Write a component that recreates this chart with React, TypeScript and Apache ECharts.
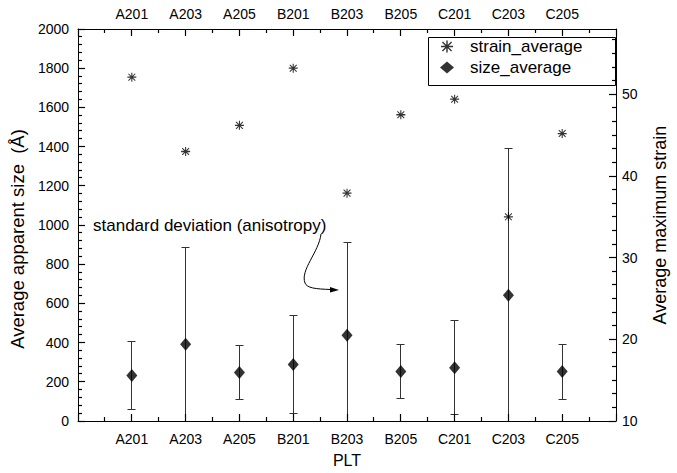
import React, { useEffect, useRef } from "react";
import * as echarts from "echarts";

const categories = ["A201", "A203", "A205", "B201", "B203", "B205", "C201", "C203", "C205"];
const sizeAverage = [232, 391, 247, 288, 438, 252, 272, 641, 252];
const sizeStd = [172, 496, 138, 251, 474, 139, 240, 751, 140];
const strainAverage = [52.1, 43.0, 46.2, 53.2, 37.9, 47.5, 49.4, 35.0, 45.2];
const annotationText = "standard deviation (anisotropy)";

// axis ranges / tick steps
const X_MIN = 0, X_MAX = 10, X_STEP = 1, X_MINOR = 2;
const L_MIN = 0, L_MAX = 2000, L_STEP = 200, L_MINOR = 5;
const R_MIN = 10, R_MAX = 58, R_STEP = 10, R_MINOR = 6;

const FONT = "'Liberation Sans', Arial, sans-serif";
const ASTERISK =
  "path://M4.4,0h1.2v10h-1.2zM0,4.3h10v1.4h-10zM0.8,1.6L1.6,0.8L9.2,8.4L8.4,9.2zM8.4,0.8L9.2,1.6L1.6,9.2L0.8,8.4z";

function tickValues(min: number, max: number, step: number, minor: number) {
  const major: number[] = [];
  const minorVals: number[] = [];
  for (let v = min; v <= max + 1e-9; v += step) major.push(+v.toFixed(6));
  const sub = step / minor;
  for (let v = min; v <= max + 1e-9; v += sub) {
    const r = +v.toFixed(6);
    if (Math.abs((r - min) / step - Math.round((r - min) / step)) > 1e-6) minorVals.push(r);
  }
  return { major, minor: minorVals };
}

const crisp = (v: number) => Math.round(v - 0.5) + 0.5;

export default function App() {
  const ref = useRef<HTMLDivElement>(null);
  useEffect(() => {
    if (!ref.current) return;
    const chart = echarts.init(ref.current, undefined, { renderer: "svg" });
    const catLabel = (v: number) => (Number.isInteger(v) && v >= 1 && v <= categories.length ? categories[v - 1] : "");
    const mkLine = () => ({ show: true, onZero: false, lineStyle: { color: "#000", width: 1 } });
    const xLabel = { formatter: catLabel, color: "#000", fontSize: 14, fontFamily: FONT, showMinLabel: false, showMaxLabel: false };
    const sizeData = sizeAverage.map((v, i) => [i + 1, v]);
    const errData = sizeAverage.map((v, i) => [i + 1, v, sizeStd[i]]);
    const strainData = strainAverage.map((v, i) => [i + 1, v]);
    const xt = tickValues(X_MIN, X_MAX, X_STEP, X_MINOR);
    const lt = tickValues(L_MIN, L_MAX, L_STEP, L_MINOR);
    const rt = tickValues(R_MIN, R_MAX - 8, R_STEP, R_MINOR);
    const rMinorExtra = tickValues(50, 60, R_STEP, R_MINOR).minor.filter((v) => v < R_MAX);
    const MAJ = 7, MIN = 4;
    const seg = (x1: number, y1: number, x2: number, y2: number) => ({
      type: "line",
      shape: { x1, y1, x2, y2 },
      style: { stroke: "#000", lineWidth: 1.2 },
      z2: 10,
    });

    chart.setOption({
      animation: false,
      backgroundColor: "#fff",
      textStyle: { fontFamily: FONT },
      grid: { left: 76, right: 56, top: 29, bottom: 50, containLabel: false },
      legend: {
        orient: "vertical",
        left: 440,
        top: 38,
        padding: 0,
        itemWidth: 14,
        itemHeight: 12,
        itemGap: 4,
        borderWidth: 0,
        formatter: (name: string) => `{t|${name}}`,
        textStyle: {
          fontSize: 17,
          color: "#000",
          fontFamily: FONT,
          rich: { t: { fontSize: 17, color: "#000", fontFamily: FONT, padding: [0, 0, 0, 11] } },
        },
        data: ["strain_average", "size_average"],
      },
      xAxis: [
        {
          type: "value", min: X_MIN, max: X_MAX, interval: X_STEP, position: "bottom",
          axisLine: mkLine(), axisTick: { show: false }, splitLine: { show: false },
          axisLabel: { ...xLabel, margin: 11 },
          name: "PLT", nameLocation: "middle", nameGap: 31,
          nameTextStyle: { fontSize: 16, color: "#000", fontFamily: FONT },
        },
        {
          type: "value", min: X_MIN, max: X_MAX, interval: X_STEP, position: "top",
          axisLine: mkLine(), axisTick: { show: false }, splitLine: { show: false },
          axisLabel: { ...xLabel, margin: 8 },
        },
      ],
      yAxis: [
        {
          type: "value",
          min: L_MIN,
          max: L_MAX,
          interval: L_STEP,
          position: "left",
          name: "Average apparent size  (Å)",
          nameLocation: "middle",
          nameGap: 46,
          nameTextStyle: { fontSize: 18.5, color: "#000", fontFamily: FONT, padding: [0, 28, 0, 0] },
          axisLine: mkLine(),
          axisTick: { show: false },
          splitLine: { show: false },
          axisLabel: { color: "#000", fontSize: 14, fontFamily: FONT, margin: 9, formatter: (v: number) => String(v) },
        },
        {
          type: "value",
          min: R_MIN,
          max: R_MAX,
          interval: R_STEP,
          position: "right",
          name: "Average maximum strain",
          nameLocation: "middle",
          nameGap: 35,
          nameTextStyle: { fontSize: 18, color: "#000", fontFamily: FONT },
          axisLine: mkLine(),
          axisTick: { show: false },
          splitLine: { show: false },
          axisLabel: {
            color: "#000",
            fontSize: 14,
            fontFamily: FONT,
            margin: 6,
            formatter: (v: number) => (Math.abs(v % 10) < 1e-9 ? String(v) : ""),
          },
        },
      ],
      series: [
        {
          name: "ticks_left",
          type: "custom",
          xAxisIndex: 0,
          yAxisIndex: 0,
          silent: true,
          clip: false,
          data: [[X_MIN, L_MIN]],
          z: 6,
          renderItem: (params: any, api: any) => {
            const cs = params.coordSys;
            const left = cs.x, top = cs.y, bottom = cs.y + cs.height;
            const ch: any[] = [];
            xt.major.forEach((v) => {
              const px = crisp(api.coord([v, L_MIN])[0]);
              ch.push(seg(px, bottom, px, bottom - MAJ), seg(px, top, px, top + MAJ));
            });
            xt.minor.forEach((v) => {
              const px = crisp(api.coord([v, L_MIN])[0]);
              ch.push(seg(px, bottom, px, bottom - MIN), seg(px, top, px, top + MIN));
            });
            lt.major.forEach((v) => {
              const py = crisp(api.coord([X_MIN, v])[1]);
              ch.push(seg(left, py, left + MAJ, py));
            });
            lt.minor.forEach((v) => {
              const py = crisp(api.coord([X_MIN, v])[1]);
              ch.push(seg(left, py, left + MIN, py));
            });
            return { type: "group", children: ch };
          },
        },
        {
          name: "ticks_right",
          type: "custom",
          xAxisIndex: 0,
          yAxisIndex: 1,
          silent: true,
          clip: false,
          data: [[X_MAX, R_MIN]],
          z: 6,
          renderItem: (params: any, api: any) => {
            const cs = params.coordSys;
            const right = cs.x + cs.width;
            const ch: any[] = [];
            rt.major.forEach((v) => {
              const py = crisp(api.coord([X_MAX, v])[1]);
              ch.push(seg(right, py, right - MAJ, py));
            });
            rt.minor.concat(rMinorExtra).forEach((v) => {
              const py = crisp(api.coord([X_MAX, v])[1]);
              ch.push(seg(right, py, right - MIN, py));
            });
            return { type: "group", children: ch };
          },
        },
        {
          name: "size_error",
          type: "custom",
          xAxisIndex: 0,
          yAxisIndex: 0,
          data: errData,
          encode: { x: 0, y: 1 },
          z: 2,
          renderItem: (params: any, api: any) => {
            const x = api.value(0);
            const m = api.value(1);
            const sd = api.value(2);
            const lo = Math.max(0, m - sd);
            const pHi = api.coord([x, m + sd]);
            const pLo = api.coord([x, lo]);
            const cx = crisp(pHi[0]);
            const st = { stroke: "#333", lineWidth: 1 };
            const children: any[] = [
              { type: "line", shape: { x1: cx, y1: pHi[1], x2: cx, y2: pLo[1] }, style: st },
              { type: "line", shape: { x1: cx - 4, y1: crisp(pHi[1]), x2: cx + 4, y2: crisp(pHi[1]) }, style: st },
            ];
            if (m - sd > 0) {
              children.push({ type: "line", shape: { x1: cx - 4, y1: crisp(pLo[1]), x2: cx + 4, y2: crisp(pLo[1]) }, style: st });
            }
            return { type: "group", children };
          },
        },
        {
          name: "size_average",
          type: "scatter",
          xAxisIndex: 0,
          yAxisIndex: 0,
          data: sizeData,
          symbol: "diamond",
          symbolSize: [11, 13],
          itemStyle: { color: "#000" },
          z: 3,
        },
        {
          name: "strain_average",
          type: "scatter",
          xAxisIndex: 0,
          yAxisIndex: 1,
          data: strainData,
          symbol: ASTERISK,
          symbolSize: 9,
          itemStyle: { color: "#000" },
          z: 4,
        },
      ],
      graphic: [
        {
          type: "rect",
          z: 3,
          shape: { x: 428.5, y: 37.5, width: 187, height: 48 },
          style: { stroke: "#000", lineWidth: 1, fill: "#fff" },
        },
        {
          type: "text",
          left: 93,
          top: 217,
          style: { text: annotationText, fontSize: 17, fill: "#000", fontFamily: FONT },
        },
        {
          type: "bezierCurve",
          shape: { x1: 321, y1: 234, cpx1: 319, cpy1: 252, cpx2: 300, cpy2: 270, x2: 305, y2: 283 },
          style: { stroke: "#000", lineWidth: 1, fill: "none" },
        },
        {
          type: "bezierCurve",
          shape: { x1: 305, y1: 283, cpx1: 307, cpy1: 288, cpx2: 315, cpy2: 289, x2: 331, y2: 289.5 },
          style: { stroke: "#000", lineWidth: 1, fill: "none" },
        },
        {
          type: "polygon",
          shape: { points: [[339, 290], [330, 287], [330, 292.5]] },
          style: { fill: "#000" },
        },
      ],
    });
    return () => chart.dispose();
  }, []);
  return <div ref={ref} style={{ position: "fixed", left: 0, top: 0, width: 677, height: 473 }} />;
}
